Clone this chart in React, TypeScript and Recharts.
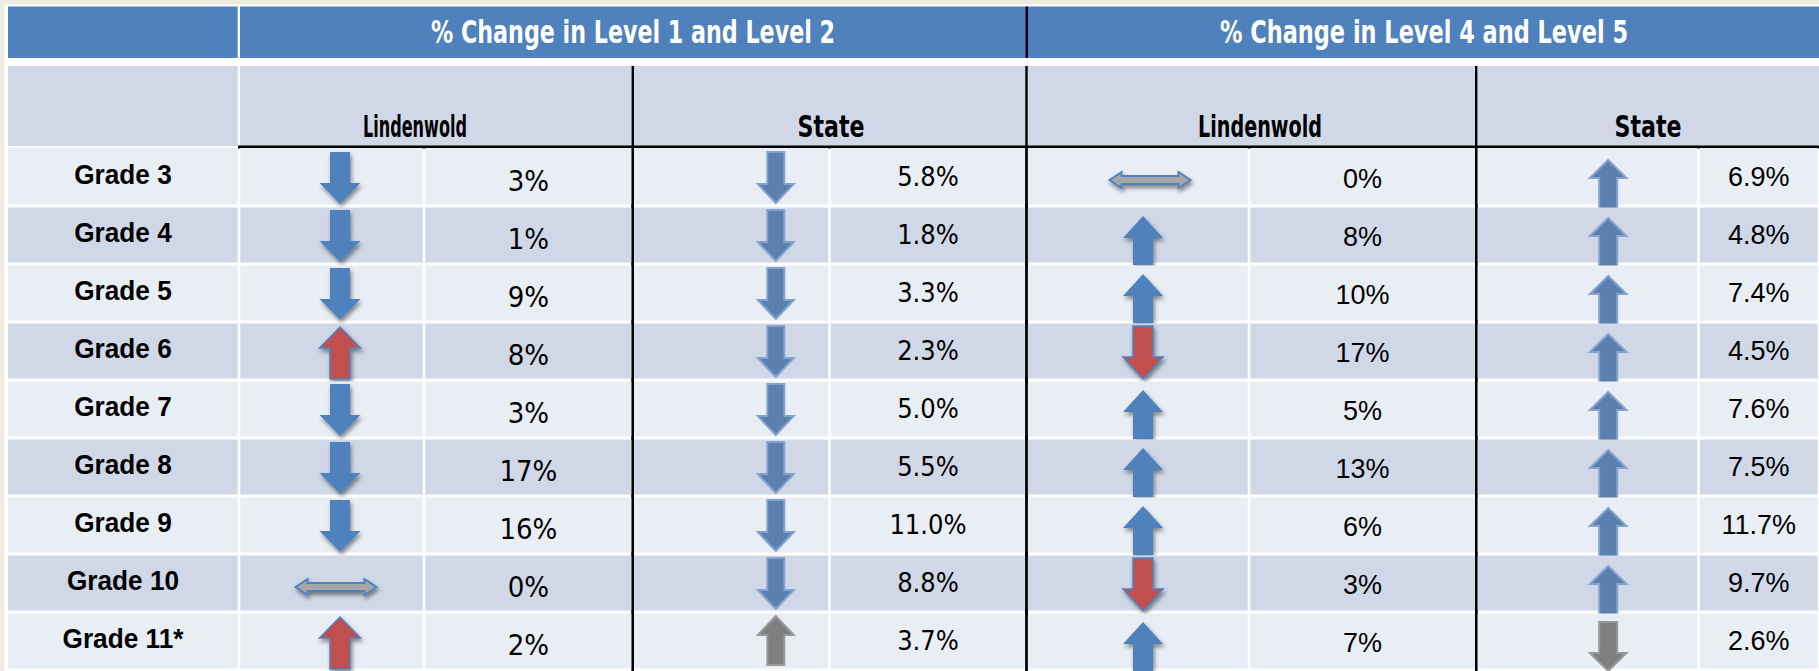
import React from 'react';
import { ComposedChart, Bar, XAxis, YAxis } from 'recharts';

const W = 1819;
const H = 671;

// ---------- data ----------
const grades = ['Grade 3', 'Grade 4', 'Grade 5', 'Grade 6', 'Grade 7', 'Grade 8', 'Grade 9', 'Grade 10', 'Grade 11*'];
const groupTitles = ['% Change in Level 1 and Level 2', '% Change in Level 4 and Level 5'];
const subTitles = ['Lindenwold', 'State', 'Lindenwold', 'State'];

const lowLindenwoldPct = [3, 1, 9, 8, 3, 17, 16, 0, 2];
const lowLindenwoldDir = ['down', 'down', 'down', 'up', 'down', 'down', 'down', 'flat', 'up'];
const lowLindenwoldTone = ['blue', 'blue', 'blue', 'red', 'blue', 'blue', 'blue', 'flat', 'red'];

const lowStatePct = [5.8, 1.8, 3.3, 2.3, 5.0, 5.5, 11.0, 8.8, 3.7];
const lowStateDir = ['down', 'down', 'down', 'down', 'down', 'down', 'down', 'down', 'up'];
const lowStateTone = ['blue', 'blue', 'blue', 'blue', 'blue', 'blue', 'blue', 'blue', 'gray'];

const highLindenwoldPct = [0, 8, 10, 17, 5, 13, 6, 3, 7];
const highLindenwoldDir = ['flat', 'up', 'up', 'down', 'up', 'up', 'up', 'down', 'up'];
const highLindenwoldTone = ['flat', 'blue', 'blue', 'red', 'blue', 'blue', 'blue', 'red', 'blue'];

const highStatePct = [6.9, 4.8, 7.4, 4.5, 7.6, 7.5, 11.7, 9.7, 2.6];
const highStateDir = ['up', 'up', 'up', 'up', 'up', 'up', 'up', 'up', 'down'];
const highStateTone = ['blue', 'blue', 'blue', 'blue', 'blue', 'blue', 'blue', 'blue', 'gray'];

const rows = grades.map((grade, i) => ({
  grade,
  c1: { pct: lowLindenwoldPct[i], dir: lowLindenwoldDir[i], tone: lowLindenwoldTone[i], digits: 0 },
  c2: { pct: lowStatePct[i], dir: lowStateDir[i], tone: lowStateTone[i], digits: 1 },
  c3: { pct: highLindenwoldPct[i], dir: highLindenwoldDir[i], tone: highLindenwoldTone[i], digits: 0 },
  c4: { pct: highStatePct[i], dir: highStateDir[i], tone: highStateTone[i], digits: 1 },
}));

// ---------- layout / style ----------
const EDGES = [0, 239, 424, 632.8, 829.5, 1026.5, 1249, 1476.2, 1698.5, 1819];
const BLACK_AFTER = [3, 5, 7];
const C = {
  cream: '#eeece1',
  head: '#4f81bd',
  band: '#d0d8e8',
  light: '#e9edf4',
  blue: '#4f81bd',
  red: '#c0504d',
  softBlue: '#5b7fae',
  softEdge: '#86a3cf',
  gray: '#7f7f7f',
  flat: '#a6a6a6',
};
const FONT = '"Liberation Sans", Arial, sans-serif';
const COND = '"DejaVu Sans Condensed", sans-serif';

const ARROWS: Record<string, any> = {
  c1: { off: 101, strong: true, down: [4, 56], up: [5, 57], sh: 10, hh: 20.5, hl: 21, flatOff: 97, flatY: 33 },
  c2: { off: 143, strong: false, down: [4, 55], up: [4, 53], sh: 8.5, hh: 18, hl: 19, flatOff: 143, flatY: 32 },
  c3: { off: 116.5, strong: true, down: [4, 57], up: [10, 59], sh: 10, hh: 20, hl: 22, flatOff: 123.5, flatY: 32 },
  c4: { off: 132, strong: false, down: [10, 59], up: [12, 62], sh: 9, hh: 18.3, hl: 18, flatOff: 132, flatY: 32 },
};
const VALUES: Record<string, any> = {
  c1: { size: 29, base: 43, font: COND },
  c2: { size: 27, base: 38, font: COND },
  c3: { size: 27, base: 40, font: FONT },
  c4: { size: 27, base: 38, font: FONT },
};

function vArrowPath(cx: number, tipY: number, tailY: number, sh: number, hh: number, hl: number) {
  const s = tipY < tailY ? 1 : -1;
  const by = tipY + s * hl;
  return `M${cx},${tipY} L${cx + hh},${by} L${cx + sh},${by} L${cx + sh},${tailY} L${cx - sh},${tailY} L${cx - sh},${by} L${cx - hh},${by} Z`;
}
function hArrowPath(cx: number, cy: number) {
  const hw = 40.5, hl = 12, hh = 8, sh = 4;
  return `M${cx - hw},${cy} L${cx - hw + hl},${cy - hh} L${cx - hw + hl},${cy - sh} L${cx + hw - hl},${cy - sh} L${cx + hw - hl},${cy - hh} L${cx + hw},${cy} L${cx + hw - hl},${cy + hh} L${cx + hw - hl},${cy + sh} L${cx - hw + hl},${cy + sh} L${cx - hw + hl},${cy + hh} Z`;
}

function makeShape(seg: number, kind: 'label' | 'arrow' | 'value', key?: string) {
  return (props: any) => {
    const { x, y, width, height, payload, index } = props;
    const fill = index % 2 === 0 ? C.light : C.band;
    const left = seg === 0 ? 8 : x + 1.3;
    const right = x + width - 1.3;
    const top = index === 0 ? y : y + 1.5;
    const bottom = y + height - 1.5;
    const parts: any[] = [
      <rect key="bg" x={left} y={top} width={right - left} height={bottom - top} fill={fill} />,
    ];
    if (BLACK_AFTER.includes(seg)) {
      parts.push(<rect key="rule" x={x - 1.2} y={y - 2} width={2.4} height={height + 4} fill="#000" />);
    }
    if (kind === 'label') {
      parts.push(
        <g key="t" transform={`translate(123, ${y + 35.5}) scale(0.92, 1)`}>
          <text x={0} y={0} textAnchor="middle" fontFamily={FONT} fontWeight="bold" fontSize={28.5} fill="#000">
            {payload.grade}
          </text>
        </g>
      );
    } else if (kind === 'value' && key) {
      const d = payload[key];
      const v = VALUES[key];
      parts.push(
        <text key="t" x={x + width / 2} y={y + v.base} textAnchor="middle" fontFamily={v.font} fontSize={v.size} fill="#000">
          {`${d.pct.toFixed(d.digits)}%`}
        </text>
      );
    } else if (kind === 'arrow' && key) {
      const d = payload[key];
      const a = ARROWS[key];
      if (d.dir === 'flat') {
        parts.push(
          <path key="a" d={hArrowPath(x + a.flatOff, y + a.flatY)} fill={C.flat} stroke={C.blue} strokeWidth={2} filter="url(#arrowShadow)" />
        );
      } else {
        const [t0, t1] = a[d.dir];
        const tip = d.dir === 'down' ? y + t1 : y + t0;
        const tail = d.dir === 'down' ? y + t0 : y + t1;
        const path = vArrowPath(x + a.off, tip, tail, a.sh, a.hh, a.hl);
        if (a.strong) {
          const f = d.tone === 'red' ? C.red : C.blue;
          parts.push(
            <path key="a" d={path} fill={f} stroke={C.blue} strokeWidth={d.tone === 'red' ? 1.5 : 0} filter="url(#arrowShadow)" />
          );
        } else {
          const f = d.tone === 'gray' ? C.gray : C.softBlue;
          const s = d.tone === 'gray' ? '#9a9a9a' : C.softEdge;
          parts.push(<path key="a" d={path} fill={f} stroke={s} strokeWidth={2} />);
        }
      }
    }
    return <g>{parts}</g>;
  };
}

const SEGMENTS: { kind: 'label' | 'arrow' | 'value'; key?: string }[] = [
  { kind: 'label' },
  { kind: 'arrow', key: 'c1' },
  { kind: 'value', key: 'c1' },
  { kind: 'arrow', key: 'c2' },
  { kind: 'value', key: 'c2' },
  { kind: 'arrow', key: 'c3' },
  { kind: 'value', key: 'c3' },
  { kind: 'arrow', key: 'c4' },
  { kind: 'value', key: 'c4' },
];

function HeaderLayer() {
  const groupCenters = [633, 1424];
  const groupWidths = [404, 408];
  const subCenters = [415, 831, 1260, 1648];
  const subWidths = [104, 67, 124, 67];
  return (
    <svg width={W} height={H} style={{ position: 'absolute', left: 0, top: 0 }}>
      <defs>
        <filter id="arrowShadow" x="-40%" y="-30%" width="180%" height="170%">
          <feDropShadow dx="1.5" dy="3" stdDeviation="2" floodColor="#000" floodOpacity="0.45" />
        </filter>
      </defs>
      <rect x={0} y={0} width={W} height={H} fill={C.cream} />
      <rect x={4.5} y={4.5} width={W} height={H} fill="#fff" />
      <rect x={8} y={6.5} width={229.7} height={51.5} fill={C.head} />
      <rect x={240} y={6.5} width={786} height={51.5} fill={C.head} />
      <rect x={1028} y={6.5} width={W} height={51.5} fill={C.head} />
      <rect x={1025.6} y={6.5} width={2.4} height={51.5} fill="#000" />
      <rect x={8} y={66} width={229.7} height={80} fill={C.band} />
      <rect x={240} y={66} width={W} height={80} fill={C.band} />
      {[632.8, 1026.5, 1476.2].map((xx) => (
        <rect key={xx} x={xx - 1.2} y={66} width={2.4} height={H} fill="#000" />
      ))}
      <rect x={238} y={145.5} width={W} height={3} fill="#000" />
      {groupTitles.map((t, i) => (
        <text key={t} x={groupCenters[i]} y={43} textAnchor="middle" fontFamily={COND} fontWeight="bold" fontSize={32} fill="#fff"
          textLength={groupWidths[i]} lengthAdjust="spacingAndGlyphs">
          {t}
        </text>
      ))}
      {subTitles.map((t, i) => (
        <text key={i} x={subCenters[i]} y={137} textAnchor="middle" fontFamily={COND} fontWeight="bold" fontSize={31} fill="#000"
          textLength={subWidths[i]} lengthAdjust="spacingAndGlyphs">
          {t}
        </text>
      ))}
    </svg>
  );
}

export default function App() {
  return (
    <div style={{ position: 'fixed', left: 0, top: 0, width: W, height: H, overflow: 'hidden', background: C.cream }}>
      <HeaderLayer />
      <div style={{ position: 'absolute', left: 0, top: 0 }}>
        <ComposedChart
          width={W}
          height={H}
          data={rows}
          layout="vertical"
          margin={{ top: 148, right: 0, bottom: 1, left: 0 }}
          barCategoryGap={0}
          barGap={0}
        >
          <XAxis type="number" domain={[0, W]} hide allowDataOverflow />
          <YAxis type="category" dataKey="grade" hide />
          {SEGMENTS.map((s, i) => (
            <Bar
              key={i}
              stackId="table"
              dataKey={() => EDGES[i + 1] - EDGES[i]}
              shape={makeShape(i, s.kind, s.key)}
              isAnimationActive={false}
            />
          ))}
        </ComposedChart>
      </div>
    </div>
  );
}
